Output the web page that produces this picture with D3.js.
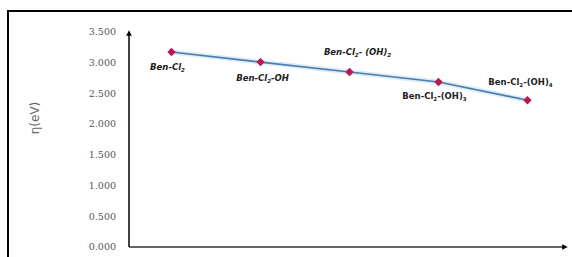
<!DOCTYPE html>
<html>
<head>
<meta charset="utf-8">
<script src="https://cdn.jsdelivr.net/npm/d3@7"></script>
<style>
  html, body { margin: 0; padding: 0; background: #fff; }
  svg { display: block; }
</style>
</head>
<body>
<svg id="chart"></svg>
<script>
// chart data
const categories = ['Ben-Cl2', 'Ben-Cl2-OH', 'Ben-Cl2-(OH)2', 'Ben-Cl2-(OH)3', 'Ben-Cl2-(OH)4'];
const etaValues = [3.175, 3.01, 2.85, 2.687, 2.39];
const yTicks = [0, 0.5, 1, 1.5, 2, 2.5, 3, 3.5];
const yTitle = 'η(eV)';

// label pieces: [text, subscript?]
const labelParts = [
  [['Ben-Cl', 0], ['2', 1]],
  [['Ben-Cl', 0], ['2', 1], ['-OH', 0]],
  [['Ben-Cl', 0], ['2', 1], ['- (OH)', 0], ['2', 1]],
  [['Ben-Cl', 0], ['2', 1], ['-(OH)', 0], ['3', 1]],
  [['Ben-Cl', 0], ['2', 1], ['-(OH)', 0], ['4', 1]]
];
const labelItalic = [true, true, true, false, false];
const labelOffset = [[-4, 20], [2, 21], [8, -15], [-4, 19], [-7, -13]];

const width = 572, height = 257;
const svg = d3.select('#chart').attr('width', width).attr('height', height);

const axisX = 129, axisY = 247;
const x = d3.scalePoint().domain(categories).range([127, 572]).padding(0.5);
const y = d3.scaleLinear().domain([0, 3.5]).range([axisY, 32]);

// outer frame
svg.append('path')
  .attr('d', 'M8,257 V11 H572')
  .attr('fill', 'none')
  .attr('stroke', '#000')
  .attr('stroke-width', 2);

// arrow marker
svg.append('defs').append('marker')
  .attr('id', 'arrow')
  .attr('viewBox', '0 0 10 10')
  .attr('refX', 5).attr('refY', 5)
  .attr('markerWidth', 3.5).attr('markerHeight', 3.5)
  .attr('orient', 'auto')
  .append('path')
  .attr('d', 'M0,0 L10,5 L0,10 Z')
  .attr('fill', '#000');

// axes lines
svg.append('line')
  .attr('x1', axisX).attr('y1', axisY).attr('x2', axisX).attr('y2', 33)
  .attr('stroke', '#111').attr('stroke-width', 1.6)
  .attr('marker-end', 'url(#arrow)');
svg.append('line')
  .attr('x1', axisX).attr('y1', axisY).attr('x2', 565).attr('y2', axisY)
  .attr('stroke', '#333').attr('stroke-width', 1.6)
  .attr('marker-end', 'url(#arrow)');

// y tick labels
svg.append('g')
  .selectAll('text')
  .data(yTicks)
  .join('text')
  .attr('x', 116)
  .attr('y', d => y(d))
  .attr('dy', '0.35em')
  .attr('text-anchor', 'end')
  .attr('font-family', 'DejaVu Serif')
  .attr('font-size', 9.5)
  .attr('fill', '#555')
  .text(d => d3.format('.3f')(d));

// y title
svg.append('text')
  .attr('transform', `translate(39,118) rotate(-90)`)
  .attr('text-anchor', 'middle')
  .attr('font-family', 'DejaVu Sans')
  .attr('font-size', 12)
  .attr('fill', '#666')
  .text(yTitle);

// line with glow
const line = d3.line().x((d, i) => x(categories[i])).y(d => y(d));
svg.append('path')
  .datum(etaValues)
  .attr('d', line)
  .attr('fill', 'none')
  .attr('stroke', '#d8eef8')
  .attr('stroke-width', 5)
  .attr('stroke-linejoin', 'round');
svg.append('path')
  .datum(etaValues)
  .attr('d', line)
  .attr('fill', 'none')
  .attr('stroke', '#4f79ad')
  .attr('stroke-width', 1.6);

// diamond markers
svg.append('g')
  .selectAll('path')
  .data(etaValues)
  .join('path')
  .attr('transform', (d, i) => `translate(${x(categories[i])},${y(d)})`)
  .attr('d', d3.symbol(d3.symbolDiamond2, 45))
  .attr('fill', '#b8174f');

// point labels
const labels = svg.append('g')
  .selectAll('text')
  .data(etaValues)
  .join('text')
  .attr('x', (d, i) => x(categories[i]) + labelOffset[i][0])
  .attr('y', (d, i) => y(d) + labelOffset[i][1])
  .attr('text-anchor', 'middle')
  .attr('font-family', 'DejaVu Sans')
  .attr('font-weight', 'bold')
  .attr('font-style', (d, i) => labelItalic[i] ? 'italic' : 'normal')
  .attr('font-size', 8.5)
  .attr('fill', '#222');

labels.each(function (d, i) {
  const t = d3.select(this);
  labelParts[i].forEach(([s, sub]) => {
    t.append('tspan')
      .attr('font-size', sub ? 5.5 : 8.5)
      .attr('dy', sub ? 2 : (t.selectAll('tspan').size() > 0 ? -2 : 0))
      .text(s);
  });
});
</script>
</body>
</html>
